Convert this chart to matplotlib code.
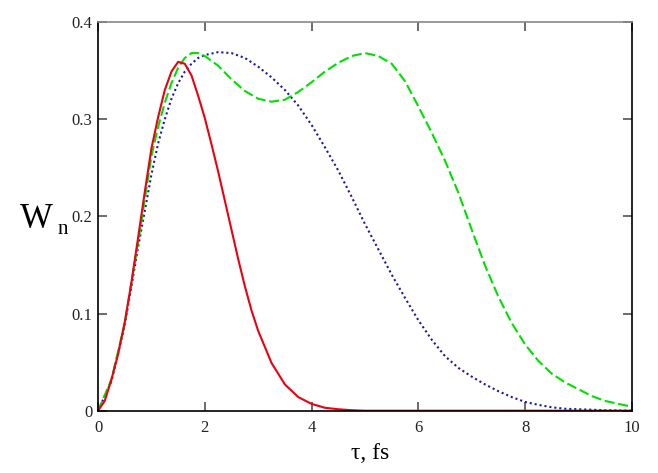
import matplotlib
matplotlib.use("Agg")
import matplotlib.pyplot as plt

# --- red (solid) ---
tau_red = [0, 0.125, 0.25, 0.375, 0.5, 0.625, 0.75, 0.875, 1.0, 1.125, 1.25, 1.375,
           1.5, 1.625, 1.75, 1.875, 2.0, 2.125, 2.25, 2.375, 2.5, 2.625, 2.75, 2.875,
           3.0, 3.25, 3.5, 3.75, 4.0, 4.25, 4.5, 4.75, 5.0, 6.0, 8.0, 10.0]
w_red = [0, 0.010, 0.032, 0.058, 0.091, 0.132, 0.178, 0.225, 0.270, 0.302, 0.330, 0.349,
         0.359, 0.357, 0.345, 0.324, 0.301, 0.274, 0.246, 0.216, 0.186, 0.156, 0.128,
         0.103, 0.082, 0.049, 0.027, 0.014, 0.007, 0.003, 0.0015, 0.0005, 0, 0, 0, 0]

# --- blue (dotted) ---
tau_blue = [0, 0.25, 0.5, 0.75, 1.0, 1.125, 1.25, 1.375, 1.5, 1.625, 1.75, 1.875, 2.0,
            2.25, 2.5, 2.75, 3.0, 3.25, 3.5, 3.75, 4.0, 4.25, 4.5, 4.75, 5.0, 5.25,
            5.5, 5.75, 6.0, 6.25, 6.5, 6.75, 7.0, 7.25, 7.5, 7.75, 8.0, 8.25, 8.5,
            8.75, 9.0, 9.25, 9.5, 9.75, 10.0]
w_blue = [0, 0.030, 0.088, 0.168, 0.243, 0.275, 0.300, 0.321, 0.337, 0.349, 0.357,
          0.363, 0.366, 0.369, 0.368, 0.363, 0.354, 0.343, 0.330, 0.314, 0.294, 0.271,
          0.247, 0.220, 0.192, 0.166, 0.140, 0.116, 0.093, 0.073, 0.056, 0.044, 0.035,
          0.027, 0.020, 0.014, 0.009, 0.006, 0.0035, 0.002, 0.0015, 0.001, 0.0005,
          0.0002, 0]

# --- green (dashed) ---
tau_green = [0, 0.25, 0.5, 0.75, 1.0, 1.125, 1.25, 1.375, 1.5, 1.625, 1.75, 1.875, 2.0,
             2.25, 2.5, 2.75, 3.0, 3.25, 3.5, 3.75, 4.0, 4.25, 4.5, 4.75, 5.0, 5.25,
             5.5, 5.75, 6.0, 6.25, 6.5, 6.75, 7.0, 7.25, 7.5, 7.75, 8.0, 8.25, 8.5,
             8.75, 9.0, 9.25, 9.5, 9.75, 10.0]
w_green = [0, 0.032, 0.090, 0.173, 0.262, 0.292, 0.317, 0.337, 0.353, 0.363, 0.368,
           0.368, 0.365, 0.355, 0.341, 0.329, 0.321, 0.318, 0.320, 0.328, 0.338, 0.349,
           0.358, 0.365, 0.368, 0.365, 0.357, 0.339, 0.313, 0.286, 0.257, 0.224, 0.186,
           0.149, 0.117, 0.090, 0.068, 0.051, 0.038, 0.029, 0.022, 0.015, 0.010,
           0.007, 0.004]

x_ticks = [0, 2, 4, 6, 8, 10]
y_ticks = [0, 0.1, 0.2, 0.3, 0.4]
y_tick_labels = ["0", "0.1", "0.2", "0.3", "0.4"]

serif = "Liberation Serif"

fig = plt.figure(figsize=(6.58, 4.73), dpi=100)
ax = fig.add_axes([0.149, 0.1317, 0.8115, 0.8218])

ax.plot(tau_blue, w_blue, color="#1a1aa0", lw=1.5, dashes=(1, 1.4))
ax.plot(tau_green, w_green, color="#00e000", lw=1.5, dashes=(4.8, 1.8))
ax.plot(tau_red, w_red, color="#ee0010", lw=1.5)

ax.set_xlim(0, 10)
ax.set_ylim(0, 0.4)
ax.set_xticks(x_ticks)
ax.set_yticks(y_ticks)
ax.set_xticklabels([str(v) for v in x_ticks], fontfamily=serif, fontsize=12, color="#222222")
ax.set_yticklabels(y_tick_labels, fontfamily=serif, fontsize=12, color="#222222")
ax.tick_params(direction="in", length=6.5, width=1.1, color="#444444",
               top=True, right=True, pad=4)
ax.tick_params(axis="x", pad=7)

for s in ["left", "right", "bottom"]:
    ax.spines[s].set_color("black")
    ax.spines[s].set_linewidth(1.2)
ax.spines["top"].set_color("#888888")
ax.spines["top"].set_linewidth(1.2)

fig.text(0.030, 0.535, "W", fontfamily=serif, fontsize=25, color="black", va="center")
fig.text(0.087, 0.515, "n", fontfamily=serif, fontsize=15, color="black", va="center")
fig.text(0.562, 0.042, "\u03c4, fs", fontfamily=serif, fontsize=17, color="black",
         ha="center", va="center")

fig.savefig("out.png", dpi=100)
